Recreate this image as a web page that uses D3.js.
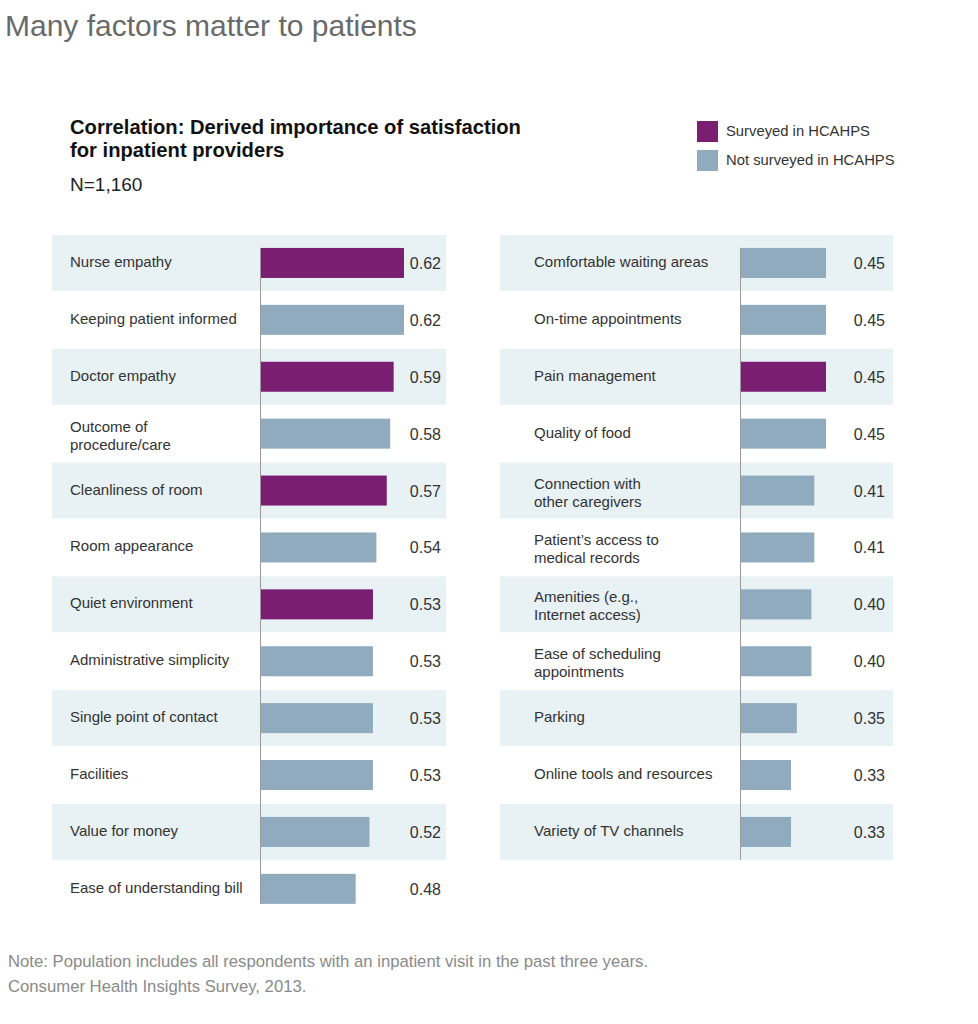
<!DOCTYPE html>
<html>
<head>
<meta charset="utf-8">
<script src="https://cdn.jsdelivr.net/npm/d3@7"></script>
<style>
  body { margin: 0; background: #fff; }
  svg { display: block; font-family: "Liberation Sans", Arial, Helvetica, sans-serif; }
</style>
</head>
<body>
<svg id="chart" width="978" height="1024"></svg>
<script>
// ---- data ----
const leftLabels = ["Nurse empathy", "Keeping patient informed", "Doctor empathy", "Outcome of\nprocedure/care",
  "Cleanliness of room", "Room appearance", "Quiet environment", "Administrative simplicity",
  "Single point of contact", "Facilities", "Value for money", "Ease of understanding bill"];
const leftValues = [0.62, 0.62, 0.59, 0.58, 0.57, 0.54, 0.53, 0.53, 0.53, 0.53, 0.52, 0.48];
const leftSurveyed = [true, false, true, false, true, false, true, false, false, false, false, false];

const rightLabels = ["Comfortable waiting areas", "On-time appointments", "Pain management", "Quality of food",
  "Connection with\nother caregivers", "Patient’s access to\nmedical records", "Amenities (e.g.,\nInternet access)",
  "Ease of scheduling\nappointments", "Parking", "Online tools and resources", "Variety of TV channels"];
const rightValues = [0.45, 0.45, 0.45, 0.45, 0.41, 0.41, 0.40, 0.40, 0.35, 0.33, 0.33];
const rightSurveyed = [false, false, true, false, false, false, false, false, false, false, false];

const legendLabels = ["Surveyed in HCAHPS", "Not surveyed in HCAHPS"];
const titleText = "Many factors matter to patients";
const subtitleLines = ["Correlation: Derived importance of satisfaction", "for inpatient providers"];
const nText = "N=1,160";
const noteLines = ["Note: Population includes all respondents with an inpatient visit in the past three years.",
  "Consumer Health Insights Survey, 2013."];

// ---- styles ----
const PURPLE = "#7a1e72", BLUE = "#8fabbd", SHADE = "#e8f1f4";

const svg = d3.select("#chart");

// title
svg.append("text").attr("x", 5).attr("y", 36).attr("font-size", 30).attr("fill", "#6a6a6a")
  .text(titleText);

svg.selectAll(".sub").data(subtitleLines).join("text")
  .attr("x", 70).attr("y", (d, i) => 134 + i * 23)
  .attr("font-size", 20.2).attr("font-weight", "bold").attr("fill", "#111").text(d => d);

svg.append("text").attr("x", 70).attr("y", 191).attr("font-size", 19).attr("fill", "#222").text(nText);

// legend
const colorScale = d3.scaleOrdinal().domain(legendLabels).range([PURPLE, BLUE]);
const lg = svg.append("g").attr("transform", "translate(697,121)");
legendLabels.forEach((l, i) => {
  const g = lg.append("g").attr("transform", `translate(0,${i * 29})`);
  g.append("rect").attr("width", 21).attr("height", 21).attr("fill", colorScale(l));
  g.append("text").attr("x", 29).attr("y", 10).attr("dominant-baseline", "central")
    .attr("font-size", 14.8).attr("fill", "#333").text(l);
});

// rows scale (shared)
const y = d3.scaleBand().domain(d3.range(12)).range([234.5, 917.3]).paddingInner(0).paddingOuter(0);

function panel(opts) {
  const { labels, values, surveyed, x0, x1, axisX, labelX, valueX, xScale, axisBottomExtra } = opts;
  const g = svg.append("g");
  const idx = d3.range(labels.length);
  // shading
  g.selectAll(".shade").data(idx.filter(i => i % 2 === 0)).join("rect")
    .attr("x", x0).attr("width", x1 - x0)
    .attr("y", i => y(i) + 0.5).attr("height", y.bandwidth() - 1)
    .attr("fill", SHADE);
  // bars
  const barH = 30;
  g.selectAll(".bar").data(idx).join("rect")
    .attr("x", axisX)
    .attr("y", i => y(i) + y.bandwidth() / 2 - barH / 2)
    .attr("height", barH)
    .attr("width", i => xScale(values[i]) - axisX)
    .attr("fill", i => surveyed[i] ? PURPLE : BLUE);
  // axis line
  const n = labels.length;
  g.append("line").attr("x1", axisX + 0.5).attr("x2", axisX + 0.5)
    .attr("y1", y(0) + y.bandwidth() / 2 - barH / 2)
    .attr("y2", axisBottomExtra ? y(n - 1) + y.bandwidth() - 0.5 : y(n - 1) + y.bandwidth() / 2 + barH / 2)
    .attr("stroke", "#9a9a9a").attr("stroke-width", 1);
  // category labels
  idx.forEach(i => {
    const lines = labels[i].split("\n");
    const c = y(i) + y.bandwidth() / 2;
    const t = g.append("text").attr("x", labelX).attr("font-size", 15).attr("fill", "#333");
    if (lines.length === 1) {
      t.attr("y", c + 4).text(lines[0]);
    } else {
      lines.forEach((l, k) => {
        t.append("tspan").attr("x", labelX).attr("y", c - 2 + k * 18).text(l);
      });
    }
  });
  // values
  g.selectAll(".val").data(idx).join("text")
    .attr("x", valueX).attr("y", i => y(i) + y.bandwidth() / 2 + 6)
    .attr("text-anchor", "end").attr("font-size", 16).attr("fill", "#333")
    .text(i => d3.format(".2f")(values[i]));
}

const xLeft = d3.scaleLinear().domain([0.2026, 0.62]).range([260, 404]);
const xRight = d3.scaleLinear().domain([0.155, 0.45]).range([740, 826]);

panel({ labels: leftLabels, values: leftValues, surveyed: leftSurveyed, x0: 52, x1: 446,
  axisX: 260, labelX: 70, valueX: 441, xScale: xLeft, axisBottomExtra: false });
panel({ labels: rightLabels, values: rightValues, surveyed: rightSurveyed, x0: 500, x1: 893,
  axisX: 740, labelX: 534, valueX: 885, xScale: xRight, axisBottomExtra: true });

// notes
svg.selectAll(".note").data(noteLines).join("text")
  .attr("x", 8).attr("y", (d, i) => 967 + i * 25)
  .attr("font-size", 16.7).attr("fill", "#8a8a8a").text(d => d);
</script>
</body>
</html>
